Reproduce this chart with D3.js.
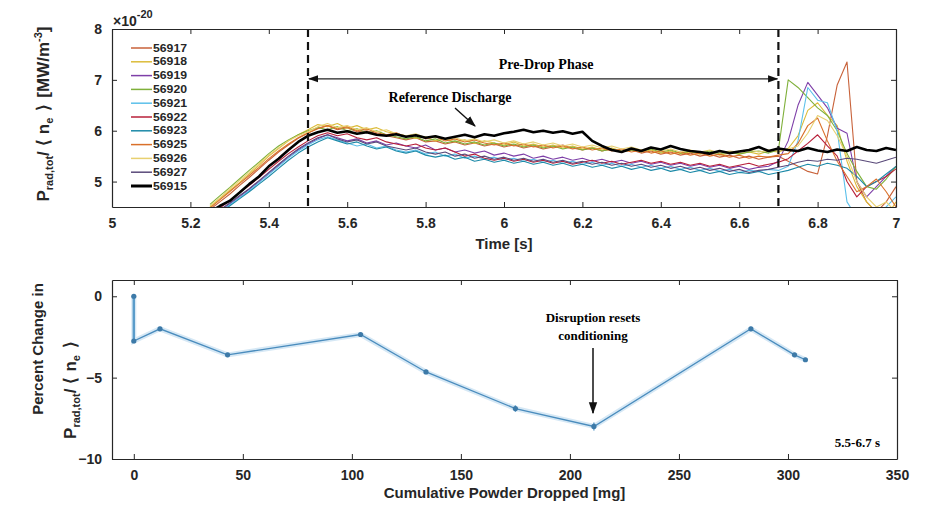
<!DOCTYPE html>
<html>
<head>
<meta charset="utf-8">
<script src="https://cdn.jsdelivr.net/npm/d3@7"></script>
<style>
  body { margin: 0; background: #fff; }
  .axis text { font-family: "Liberation Sans", Arial, sans-serif; font-weight: bold; font-size: 14px; fill: #262626; }
  .axis path, .axis line { stroke: #262626; }
  .serif { font-family: "Liberation Serif", "Times New Roman", serif; font-weight: bold; }
  .sans { font-family: "Liberation Sans", Arial, sans-serif; font-weight: bold; fill: #262626; }
</style>
</head>
<body>
<div class="chart"></div>
<script>
let w = 930, h = 508;
let svg = d3.select('.chart').append('svg').attr('width', w).attr('height', h);

/* ==== DATA ===== */

// shared time base for the traces [s]
let times = [5.25, 5.275, 5.3, 5.325, 5.35, 5.375, 5.4, 5.425, 5.45, 5.475,
    5.5, 5.525, 5.55, 5.575, 5.6, 5.625, 5.65, 5.675, 5.7, 5.725,
    5.75, 5.775, 5.8, 5.825, 5.85, 5.875, 5.9, 5.925, 5.95, 5.975,
    6.0, 6.025, 6.05, 6.075, 6.1, 6.125, 6.15, 6.175, 6.2, 6.225,
    6.25, 6.275, 6.3, 6.325, 6.35, 6.375, 6.4, 6.425, 6.45, 6.475,
    6.5, 6.525, 6.55, 6.575, 6.6, 6.625, 6.65, 6.675, 6.7, 6.725,
    6.75, 6.775, 6.8, 6.825, 6.85, 6.875, 6.9, 6.925, 6.95, 6.975, 7.0];

let s56917 = [4.45, 4.60, 4.75, 4.92, 5.08, 5.25, 5.42, 5.58, 5.72, 5.85,
    5.95, 6.05, 6.10, 6.02, 6.06, 5.98, 6.00, 5.94, 5.90, 5.86,
    5.82, 5.86, 5.78, 5.80, 5.74, 5.78, 5.72, 5.76, 5.70, 5.74,
    5.68, 5.72, 5.66, 5.70, 5.64, 5.68, 5.72, 5.66, 5.62, 5.66,
    5.60, 5.64, 5.58, 5.62, 5.56, 5.60, 5.54, 5.58, 5.52, 5.56,
    5.50, 5.54, 5.48, 5.52, 5.46, 5.50, 5.44, 5.48, 5.50, 5.40,
    5.30, 5.20, 5.15, 5.90, 6.90, 7.35, 5.00, 4.60, 4.40, 4.60, 4.90];
let s56918 = [4.50, 4.66, 4.82, 4.98, 5.15, 5.32, 5.50, 5.65, 5.80, 5.92,
    6.02, 6.12, 6.08, 6.14, 6.05, 6.10, 6.02, 6.06, 5.98, 5.94,
    5.90, 5.85, 5.88, 5.80, 5.84, 5.78, 5.82, 5.75, 5.80, 5.76,
    5.72, 5.78, 5.70, 5.74, 5.68, 5.72, 5.66, 5.70, 5.64, 5.68,
    5.62, 5.66, 5.60, 5.64, 5.58, 5.62, 5.56, 5.60, 5.55, 5.58,
    5.54, 5.58, 5.52, 5.56, 5.55, 5.58, 5.54, 5.60, 5.58, 5.65,
    5.90, 6.40, 6.55, 6.30, 6.10, 5.40, 4.90, 4.60, 4.40, 4.30, 4.60];
let s56919 = [4.30, 4.42, 4.56, 4.70, 4.85, 5.00, 5.16, 5.32, 5.48, 5.62,
    5.74, 5.84, 5.92, 5.86, 5.80, 5.84, 5.76, 5.80, 5.72, 5.76,
    5.70, 5.66, 5.72, 5.62, 5.66, 5.58, 5.62, 5.56, 5.60, 5.52,
    5.56, 5.50, 5.54, 5.46, 5.50, 5.44, 5.48, 5.42, 5.46, 5.40,
    5.44, 5.38, 5.42, 5.36, 5.40, 5.34, 5.38, 5.32, 5.36, 5.30,
    5.34, 5.28, 5.32, 5.26, 5.30, 5.24, 5.28, 5.30, 5.40, 5.80,
    6.50, 6.95, 6.70, 6.45, 6.05, 5.95, 5.00, 4.70, 4.90, 5.10, 5.30];
let s56920 = [4.55, 4.72, 4.88, 5.05, 5.22, 5.38, 5.55, 5.70, 5.82, 5.92,
    6.00, 6.06, 6.02, 6.08, 6.00, 6.04, 5.96, 6.00, 5.92, 5.88,
    5.84, 5.88, 5.80, 5.84, 5.76, 5.80, 5.74, 5.78, 5.72, 5.76,
    5.70, 5.74, 5.68, 5.72, 5.66, 5.70, 5.64, 5.68, 5.62, 5.66,
    5.60, 5.64, 5.58, 5.62, 5.60, 5.64, 5.58, 5.62, 5.56, 5.60,
    5.56, 5.60, 5.55, 5.58, 5.54, 5.58, 5.60, 5.56, 5.62, 7.00,
    6.85, 6.65, 6.45, 6.30, 6.00, 5.55, 5.20, 4.90, 4.85, 5.05, 5.30];
let s56921 = [4.28, 4.40, 4.54, 4.68, 4.82, 4.98, 5.14, 5.30, 5.46, 5.60,
    5.72, 5.82, 5.88, 5.82, 5.76, 5.70, 5.74, 5.66, 5.70, 5.62,
    5.58, 5.62, 5.54, 5.58, 5.50, 5.54, 5.46, 5.50, 5.44, 5.48,
    5.42, 5.46, 5.40, 5.44, 5.38, 5.42, 5.36, 5.40, 5.34, 5.38,
    5.32, 5.36, 5.30, 5.34, 5.28, 5.32, 5.26, 5.30, 5.24, 5.28,
    5.22, 5.26, 5.20, 5.24, 5.18, 5.22, 5.20, 5.24, 5.22, 5.30,
    5.80, 6.85, 6.60, 6.55, 6.00, 4.60, 4.30, 4.30, 4.40, 4.50, 4.70];
let s56922 = [4.35, 4.48, 4.62, 4.78, 4.92, 5.08, 5.24, 5.40, 5.55, 5.68,
    5.80, 5.90, 5.96, 5.90, 5.94, 5.86, 5.82, 5.86, 5.78, 5.74,
    5.70, 5.74, 5.66, 5.62, 5.66, 5.58, 5.50, 5.54, 5.46, 5.42,
    5.46, 5.40, 5.44, 5.38, 5.42, 5.36, 5.40, 5.34, 5.38, 5.42,
    5.36, 5.40, 5.34, 5.38, 5.42, 5.36, 5.40, 5.34, 5.38, 5.32,
    5.36, 5.30, 5.34, 5.28, 5.32, 5.36, 5.30, 5.34, 5.38, 5.45,
    5.60, 5.75, 5.92, 5.70, 5.50, 5.00, 4.70, 4.90, 5.00, 5.10, 5.25];
let s56923 = [4.25, 4.38, 4.52, 4.66, 4.80, 4.95, 5.10, 5.26, 5.42, 5.56,
    5.68, 5.78, 5.86, 5.80, 5.74, 5.78, 5.70, 5.64, 5.68, 5.60,
    5.56, 5.60, 5.52, 5.48, 5.52, 5.44, 5.48, 5.40, 5.44, 5.38,
    5.42, 5.36, 5.40, 5.34, 5.38, 5.32, 5.36, 5.30, 5.34, 5.28,
    5.32, 5.26, 5.30, 5.24, 5.28, 5.22, 5.26, 5.20, 5.24, 5.18,
    5.22, 5.16, 5.20, 5.14, 5.18, 5.16, 5.20, 5.14, 5.18, 5.22,
    5.28, 5.34, 5.30, 5.36, 5.32, 5.26, 5.10, 4.90, 5.00, 5.15, 5.30];
let s56925 = [4.48, 4.64, 4.80, 4.96, 5.12, 5.28, 5.45, 5.60, 5.74, 5.86,
    5.96, 6.04, 6.10, 6.04, 6.08, 6.00, 6.04, 5.96, 5.92, 5.96,
    5.88, 5.92, 5.84, 5.88, 5.80, 5.84, 5.78, 5.82, 5.76, 5.72,
    5.76, 5.70, 5.74, 5.68, 5.72, 5.66, 5.70, 5.64, 5.68, 5.62,
    5.66, 5.60, 5.64, 5.58, 5.62, 5.56, 5.60, 5.54, 5.58, 5.52,
    5.56, 5.50, 5.54, 5.48, 5.52, 5.46, 5.50, 5.48, 5.52, 5.55,
    5.75, 6.10, 6.25, 5.80, 5.40, 5.10, 4.80, 4.90, 5.05, 4.80, 4.50];
let s56926 = [4.52, 4.68, 4.85, 5.02, 5.18, 5.35, 5.52, 5.66, 5.80, 5.90,
    5.98, 6.08, 6.14, 6.06, 6.10, 6.02, 6.06, 5.98, 6.02, 5.94,
    5.90, 5.94, 5.86, 5.90, 5.82, 5.86, 5.80, 5.84, 5.78, 5.82,
    5.76, 5.80, 5.74, 5.78, 5.72, 5.76, 5.70, 5.74, 5.68, 5.72,
    5.66, 5.70, 5.64, 5.68, 5.62, 5.66, 5.60, 5.64, 5.58, 5.62,
    5.58, 5.62, 5.56, 5.60, 5.58, 5.62, 5.58, 5.62, 5.60, 5.64,
    5.70, 5.95, 6.30, 6.20, 5.90, 5.50, 5.00, 4.70, 4.50, 4.60, 4.40];
let s56927 = [4.30, 4.44, 4.58, 4.72, 4.86, 5.02, 5.18, 5.34, 5.50, 5.64,
    5.76, 5.86, 5.92, 5.84, 5.78, 5.82, 5.74, 5.78, 5.70, 5.66,
    5.62, 5.66, 5.58, 5.54, 5.58, 5.50, 5.54, 5.46, 5.50, 5.44,
    5.48, 5.42, 5.46, 5.40, 5.44, 5.38, 5.42, 5.36, 5.40, 5.34,
    5.38, 5.32, 5.36, 5.30, 5.34, 5.28, 5.32, 5.26, 5.30, 5.24,
    5.28, 5.22, 5.26, 5.20, 5.24, 5.18, 5.22, 5.24, 5.28, 5.32,
    5.38, 5.42, 5.40, 5.44, 5.42, 5.46, 5.44, 5.40, 5.36, 5.42, 5.48];
let s56915 = [4.40, 4.52, 4.62, 4.78, 4.95, 5.10, 5.30, 5.45, 5.62, 5.78,
    5.90, 5.97, 6.02, 5.96, 5.99, 5.94, 5.97, 5.92, 5.90, 5.93,
    5.88, 5.91, 5.86, 5.89, 5.84, 5.88, 5.92, 5.87, 5.93, 5.90,
    5.95, 5.98, 6.02, 5.97, 6.00, 5.96, 5.99, 5.94, 5.98, 5.80,
    5.70, 5.62, 5.58, 5.65, 5.60, 5.67, 5.63, 5.70, 5.64, 5.60,
    5.58, 5.55, 5.60, 5.56, 5.59, 5.62, 5.68, 5.60, 5.65, 5.62,
    5.60, 5.66, 5.61, 5.58, 5.63, 5.60, 5.68, 5.62, 5.60, 5.66, 5.62];

let shotNames = ['56917', '56918', '56919', '56920', '56921', '56922', '56923', '56925', '56926', '56927', '56915'];
let shotValues = [s56917, s56918, s56919, s56920, s56921, s56922, s56923, s56925, s56926, s56927, s56915];
let shotColors = ['#c8623a', '#dcbc3a', '#7e3fa8', '#7fb03a', '#5cc0ea', '#b8203a', '#1d8aa8', '#d9702a', '#e8d070', '#5a4a7a', '#000000'];

let timeTicks = [5, 5.2, 5.4, 5.6, 5.8, 6, 6.2, 6.4, 6.6, 6.8, 7];
let topYTicks = [5, 6, 7, 8];
let phaseStart = 5.5, phaseEnd = 6.7;

// lower panel: percent change vs cumulative powder dropped
let powder = [0, 0, 12, 43, 104, 134, 175, 211, 283, 303, 308];
let pctChange = [0, -2.75, -2.0, -3.6, -2.35, -4.65, -6.9, -8.0, -2.0, -3.6, -3.9];
let pctErr = [0.05, 0.1, 0.05, 0.05, 0.05, 0.08, 0.2, 0.25, 0.05, 0.05, 0.05];
let powderTicks = [0, 50, 100, 150, 200, 250, 300, 350];
let pctTicks = [0, -5, -10];

/* ==== TOP PANEL ===== */

let topBox = { x0: 112, x1: 896, y0: 29, y1: 207 };

let xTime = d3.scaleLinear().domain([5, 7]).range([topBox.x0, topBox.x1]);
let yTop = d3.scaleLinear().domain([4.5, 8]).range([topBox.y1, topBox.y0]);

svg.append('clipPath')
    .attr('id', 'top-area')
    .append('rect')
    .attr('x', topBox.x0)
    .attr('y', topBox.y0)
    .attr('width', topBox.x1 - topBox.x0)
    .attr('height', topBox.y1 - topBox.y0);

let traceLine = d3.line()
    .x(function (d, i) { return xTime(times[i]); })
    .y(function (d) { return yTop(d); });

shotValues.forEach(function (vals, k) {
    svg.append('path')
        .datum(vals)
        .attr('d', traceLine)
        .attr('fill', 'none')
        .attr('stroke', shotColors[k])
        .attr('stroke-width', k === 10 ? 2.6 : 1.1)
        .attr('stroke-linejoin', 'round')
        .attr('clip-path', 'url(#top-area)');
});

// dashed phase boundaries
[phaseStart, phaseEnd].forEach(function (t) {
    svg.append('line')
        .attr('x1', xTime(t)).attr('x2', xTime(t))
        .attr('y1', topBox.y0).attr('y2', topBox.y1)
        .attr('stroke', '#111')
        .attr('stroke-width', 2.2)
        .attr('stroke-dasharray', '8,5');
});

function boxAxes(g, xs, ys, xt, yt, fx, box) {
    g.append('g').attr('class', 'axis')
        .attr('transform', 'translate(0,' + box.y1 + ')')
        .call(d3.axisBottom(xs).tickValues(xt).tickSizeInner(-5).tickSizeOuter(0).tickPadding(11).tickFormat(fx));
    g.append('g').attr('class', 'axis')
        .attr('transform', 'translate(0,' + box.y0 + ')')
        .call(d3.axisTop(xs).tickValues(xt).tickSizeInner(-5).tickSizeOuter(0).tickFormat(''));
    g.append('g').attr('class', 'axis')
        .attr('transform', 'translate(' + box.x0 + ',0)')
        .call(d3.axisLeft(ys).tickValues(yt).tickSizeInner(-5).tickSizeOuter(0).tickPadding(10).tickFormat(d3.format('d')));
    g.append('g').attr('class', 'axis')
        .attr('transform', 'translate(' + box.x1 + ',0)')
        .call(d3.axisRight(ys).tickValues(yt).tickSizeInner(-5).tickSizeOuter(0).tickFormat(''));
    g.selectAll('.axis .domain').attr('stroke', '#333').attr('stroke-width', 1.2);
    g.selectAll('.axis .tick line').attr('stroke', '#444');
}

let topG = svg.append('g');
boxAxes(topG, xTime, yTop, timeTicks, topYTicks, d3.format('~g'), topBox);

svg.append('text').attr('class', 'sans')
    .attr('x', 113).attr('y', 26).attr('font-size', 14)
    .html('×10<tspan dy="-8" font-size="11">-20</tspan>');

svg.append('text').attr('class', 'sans')
    .attr('x', (topBox.x0 + topBox.x1) / 2).attr('y', 249)
    .attr('text-anchor', 'middle').attr('font-size', 15)
    .text('Time [s]');

// P_rad,tot / <n_e> label, with the wide bracket gaps of the original
let pLabel = 'P<tspan font-size="11" dy="4">rad,tot</tspan><tspan dy="-4">/</tspan>' +
    '<tspan dx="5">⟨</tspan><tspan dx="5">n</tspan>' +
    '<tspan font-size="11" dy="4">e</tspan><tspan dy="-4" dx="7">⟩</tspan>';

svg.append('text').attr('class', 'sans')
    .attr('transform', 'translate(49,114) rotate(-90)')
    .attr('text-anchor', 'middle').attr('font-size', 17)
    .html(pLabel + '<tspan dx="6">[MW/m</tspan>' +
        '<tspan font-size="11" dy="-7">-3</tspan><tspan dy="7">]</tspan>');

/* ===== LEGEND ===== */

let legend = svg.append('g').attr('transform', 'translate(131,48)');
shotNames.forEach(function (name, k) {
    let row = legend.append('g').attr('transform', 'translate(0,' + (k * 13.8) + ')');
    row.append('line')
        .attr('x1', 0).attr('x2', 21)
        .attr('stroke', shotColors[k])
        .attr('stroke-width', k === 10 ? 3 : 1.5);
    row.append('text').attr('class', 'sans')
        .attr('x', 22).attr('y', 3.5)
        .attr('font-size', 10)
        .attr('textLength', 34)
        .attr('lengthAdjust', 'spacingAndGlyphs')
        .text(name);
});

/* ===== ANNOTATIONS TOP ===== */

let defs = svg.append('defs');
defs.append('marker')
    .attr('id', 'head')
    .attr('viewBox', '0 0 10 10')
    .attr('refX', 9).attr('refY', 5)
    .attr('markerWidth', 8).attr('markerHeight', 8)
    .attr('orient', 'auto-start-reverse')
    .append('path')
    .attr('d', 'M0,1.5 L10,5 L0,8.5 Z')
    .attr('fill', '#111');

let arrowY = yTop(7.02);
svg.append('line')
    .attr('x1', xTime(phaseStart) + 1).attr('x2', xTime(phaseEnd) - 1)
    .attr('y1', arrowY).attr('y2', arrowY)
    .attr('stroke', '#222').attr('stroke-width', 1.3)
    .attr('marker-start', 'url(#head)')
    .attr('marker-end', 'url(#head)');

svg.append('text').attr('class', 'serif')
    .attr('x', 546).attr('y', 69)
    .attr('text-anchor', 'middle').attr('font-size', 14)
    .text('Pre-Drop Phase');

svg.append('text').attr('class', 'serif')
    .attr('x', 450).attr('y', 102)
    .attr('text-anchor', 'middle').attr('font-size', 14)
    .text('Reference Discharge');

svg.append('line')
    .attr('x1', 455).attr('y1', 108)
    .attr('x2', 475).attr('y2', 126)
    .attr('stroke', '#111').attr('stroke-width', 1.4)
    .attr('marker-end', 'url(#head)');

/* ==== BOTTOM PANEL ===== */

let botBox = { x0: 112, x1: 897, y0: 280, y1: 459 };

let xPowder = d3.scaleLinear().domain([-10, 350]).range([botBox.x0, botBox.x1]);
let yPct = d3.scaleLinear().domain([-10, 1]).range([botBox.y1, botBox.y0]);

let pctLine = d3.line()
    .x(function (d, i) { return xPowder(powder[i]); })
    .y(function (d) { return yPct(d); });

svg.append('path')
    .datum(pctChange)
    .attr('d', pctLine)
    .attr('fill', 'none')
    .attr('stroke', '#d6e8f5')
    .attr('stroke-width', 5);

svg.append('path')
    .datum(pctChange)
    .attr('d', pctLine)
    .attr('fill', 'none')
    .attr('stroke', '#4a8cbd')
    .attr('stroke-width', 1.3);

svg.append('line')
    .attr('x1', xPowder(powder[0])).attr('x2', xPowder(powder[1]))
    .attr('y1', yPct(pctChange[0])).attr('y2', yPct(pctChange[1]))
    .attr('stroke', '#5a9cca').attr('stroke-width', 2.4);

pctChange.forEach(function (v, i) {
    svg.append('line')
        .attr('x1', xPowder(powder[i])).attr('x2', xPowder(powder[i]))
        .attr('y1', yPct(v - pctErr[i])).attr('y2', yPct(v + pctErr[i]))
        .attr('stroke', '#5a9cca').attr('stroke-width', 1.4);
    svg.append('circle')
        .attr('cx', xPowder(powder[i]))
        .attr('cy', yPct(v))
        .attr('r', 2.6)
        .attr('fill', '#3d7aa8');
});

let botG = svg.append('g');
boxAxes(botG, xPowder, yPct, powderTicks, pctTicks, d3.format('d'), botBox);

svg.append('text').attr('class', 'sans')
    .attr('x', (botBox.x0 + botBox.x1) / 2).attr('y', 498)
    .attr('text-anchor', 'middle').attr('font-size', 15)
    .text('Cumulative Powder Dropped [mg]');

svg.append('text').attr('class', 'sans')
    .attr('transform', 'translate(43,349) rotate(-90)')
    .attr('text-anchor', 'middle').attr('font-size', 15)
    .text('Percent Change in');

svg.append('text').attr('class', 'sans')
    .attr('transform', 'translate(76,390) rotate(-90)')
    .attr('text-anchor', 'middle').attr('font-size', 17)
    .html(pLabel);

svg.append('text').attr('class', 'serif')
    .attr('x', 593).attr('y', 322)
    .attr('text-anchor', 'middle').attr('font-size', 13)
    .text('Disruption resets');
svg.append('text').attr('class', 'serif')
    .attr('x', 593).attr('y', 340)
    .attr('text-anchor', 'middle').attr('font-size', 13)
    .text('conditioning');

svg.append('line')
    .attr('x1', 593).attr('y1', 348)
    .attr('x2', 593).attr('y2', 413)
    .attr('stroke', '#111').attr('stroke-width', 1.5)
    .attr('marker-end', 'url(#head)');

svg.append('text').attr('class', 'serif')
    .attr('x', 880).attr('y', 447)
    .attr('text-anchor', 'end').attr('font-size', 13)
    .text('5.5-6.7 s');
</script>
</body>
</html>
